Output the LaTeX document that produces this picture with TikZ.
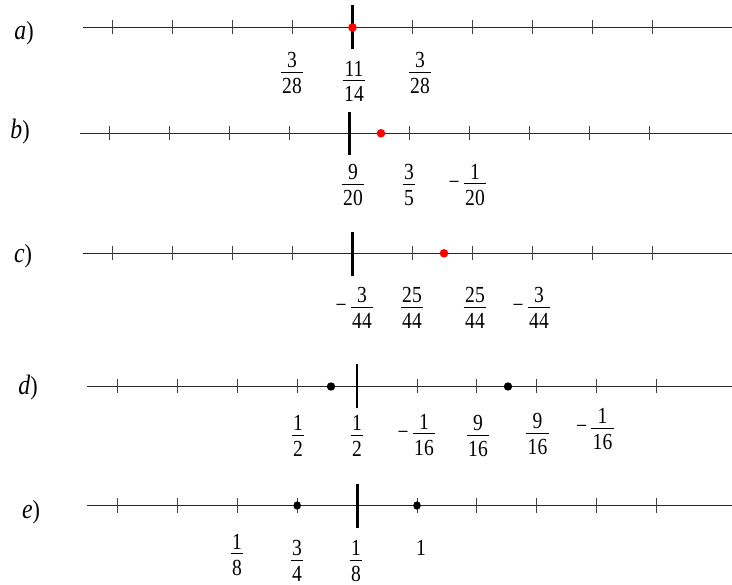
\documentclass[tikz,border=0pt]{standalone}
\usepackage{fontspec}
\setmainfont{Liberation Serif}[FakeStretch=0.85]
\newcommand\fr[2]{\vbox{\offinterlineskip\halign{\hfil\kern1.5pt##\kern1.5pt\hfil\cr #1\cr\noalign{\kern4pt\hrule height 0.9pt\kern5.5pt}#2\cr}}}
\newcommand\mfr[2]{\llap{\raisebox{15.8pt}{−}\hspace{4pt}}\fr{#1}{#2}}
\newcommand\rowl[1]{{\fontsize{28}{30}\selectfont\textit{#1}}{\fontsize{26}{30}\selectfont)}}
\tikzset{
  axisline/.style={line width=1.2pt, black!85},
  tickmark/.style={line width=0.9pt, black!75},
  bigtick/.style={line width=2.6pt, black},
  reddot/.style={circle, fill=red, draw=none, inner sep=0pt, minimum size=8.6pt},
  blackdot/.style={circle, fill=black, draw=none, inner sep=0pt, minimum size=8.4pt},
  smalldot/.style={ellipse, fill=black, draw=none, inner sep=0pt, minimum width=7.6pt, minimum height=8.4pt},
  rowlab/.style={inner sep=0pt},
  numlab/.style={inner sep=0pt, yshift=-0.75pt}
}
\usetikzlibrary{shapes.geometric}
\begin{document}
\begin{tikzpicture}[x=1pt,y=-1pt,font=\fontsize{23}{26}\selectfont]
\useasboundingbox (0,0) rectangle (732,585);
% ---------- a ----------
\coordinate (a0) at (82.5,27.5);
\coordinate (a1) at (732,27.5);
\draw[axisline] (a0) -- (a1);
\foreach \k in {0,...,9} \draw[tickmark] ({112.5+60*\k},20.5) -- ++(0,14);
\draw[bigtick] (352.5,5) -- (352.5,49);
\node[reddot] (pa) at (352.5,27.5) {};
\node[rowlab] (la) at (24,33) {\rowl{a}};
\node[numlab] (fa1) at (292,72.7) {\fr{3}{28}};
\node[numlab] (fa2) at (354,80.7) {\fr{11}{14}};
\node[numlab] (fa3) at (420,72.7) {\fr{3}{28}};
% ---------- b ----------
\coordinate (b0) at (80,133.3);
\coordinate (b1) at (732,133.3);
\draw[axisline] (b0) -- (b1);
\foreach \k in {0,...,9} \draw[tickmark] ({109.6+60*\k},126.3) -- ++(0,14);
\draw[bigtick] (349.6,112) -- (349.6,155);
\node[reddot] (pb) at (381,133.3) {};
\node[rowlab] (lb) at (20,132) {\rowl{b}};
\node[numlab] (fb1) at (353,184) {\fr{9}{20}};
\node[numlab] (fb2) at (409,184) {\fr{3}{5}};
\node[numlab] (fb3) at (475,184) {\mfr{1}{20}};
% ---------- c ----------
\coordinate (c0) at (82.5,253.3);
\coordinate (c1) at (732,253.3);
\draw[axisline] (c0) -- (c1);
\foreach \k in {0,...,9} \draw[tickmark] ({112.5+60*\k},246.3) -- ++(0,14);
\draw[bigtick] (352.5,232) -- (352.5,276);
\node[reddot] (pc) at (444,253.3) {};
\node[rowlab] (lc) at (23,256) {\rowl{c}};
\node[numlab] (fc1) at (362,307) {\mfr{3}{44}};
\node[numlab] (fc2) at (412,307) {\fr{25}{44}};
\node[numlab] (fc3) at (475,307) {\fr{25}{44}};
\node[numlab] (fc4) at (539,307) {\mfr{3}{44}};
% ---------- d ----------
\coordinate (d0) at (87,386.5);
\coordinate (d1) at (732,386.5);
\draw[axisline] (d0) -- (d1);
\foreach \k in {0,...,9} \draw[tickmark] ({117.5+59.9*\k},379.5) -- ++(0,14);
\draw[bigtick] (357.1,364) -- (357.1,408);
\node[blackdot] (pd1) at (331,386.5) {};
\node[blackdot] (pd2) at (508,386.5) {};
\node[rowlab] (ld) at (28,388) {\rowl{d}};
\node[numlab] (fd1) at (298,435) {\fr{1}{2}};
\node[numlab] (fd2) at (357,435) {\fr{1}{2}};
\node[numlab] (fd3) at (424,434) {\mfr{1}{16}};
\node[numlab] (fd4) at (478,435) {\fr{9}{16}};
\node[numlab] (fd5) at (537.5,433) {\fr{9}{16}};
\node[numlab] (fd6) at (602.5,428.5) {\mfr{1}{16}};
% ---------- e ----------
\coordinate (e0) at (87,505.5);
\coordinate (e1) at (732,505.5);
\draw[axisline] (e0) -- (e1);
\foreach \k in {0,...,9} \draw[tickmark] ({117.5+59.9*\k},498) -- ++(0,15);
\draw[bigtick] (357.3,484) -- (357.3,528);
\node[smalldot] (pe1) at (297.2,505.5) {};
\node[smalldot] (pe2) at (417,505.5) {};
\node[rowlab] (le) at (31,512) {\rowl{e}};
\node[numlab] (fe1) at (237,554) {\fr{1}{8}};
\node[numlab] (fe2) at (297,560.3) {\fr{3}{4}};
\node[numlab] (fe3) at (356,560.3) {\fr{1}{8}};
\node[inner sep=0pt] (fe4) at (421,548) {1};
\end{tikzpicture}
\end{document}
